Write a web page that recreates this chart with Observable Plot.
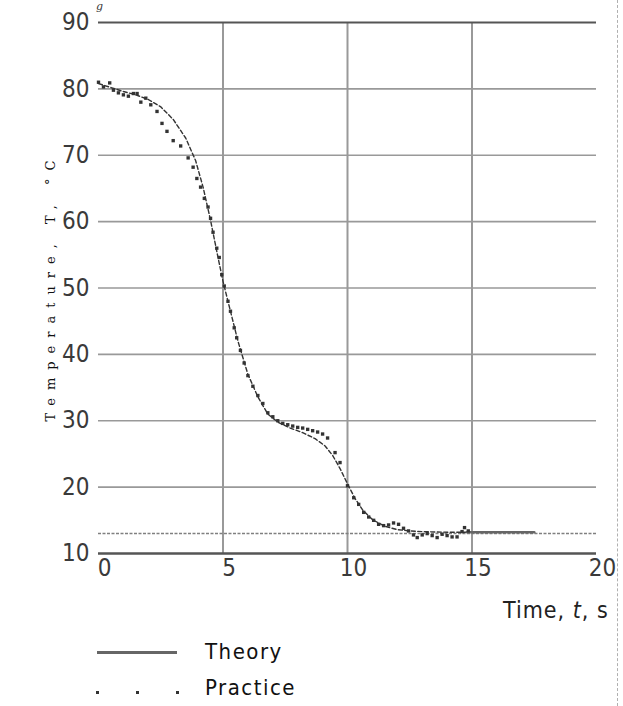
<!DOCTYPE html>
<html>
<head>
<meta charset="utf-8">
<script src="https://cdn.jsdelivr.net/npm/d3@7"></script>
<script src="https://cdn.jsdelivr.net/npm/@observablehq/plot@0.6"></script>
<style>
  html, body { margin: 0; padding: 0; background: #fff; }
  body { position: relative; width: 623px; height: 706px; overflow: hidden; font-family: "DejaVu Sans", sans-serif; }
  #chart { position: absolute; left: 0; top: 0; }
  .abs { position: absolute; white-space: nowrap; }
  #xlabel { left: 503px; top: 597px; font-family: "DejaVu Sans Condensed", "DejaVu Sans", sans-serif; font-size: 23px; letter-spacing: 1px; color: #222; }
  #ylabel { left: 50px; top: 287px; }
  #ylabel span { position: absolute; left: 0; top: 0; transform: translate(-50%, -50%) rotate(-90deg); font-size: 13px; letter-spacing: 8px; color: #111; font-family: "DejaVu Serif", serif; }
  #topg { left: 96px; top: 0; font-size: 11px; line-height: 13px; font-style: italic; color: #333; font-family: "DejaVu Serif", serif; }
  #border { left: 617px; top: 0; height: 706px; border-left: 1px dashed #b0b0b0; }
  .leg { font-size: 22px; color: #111; font-family: "DejaVu Sans Condensed", "DejaVu Sans", sans-serif; letter-spacing: 1.5px; }
  #legline { left: 97px; top: 651px; width: 80px; height: 0; border-top: 3px solid #666; }
  #legdots { left: 96px; top: 691px; }
  #legdots i { position: absolute; top: 0; width: 3px; height: 3px; background: #333; }
</style>
</head>
<body>
<div id="chart"></div>
<div class="abs" id="topg">g</div>
<div class="abs" id="ylabel"><span>Temperature, T, °C</span></div>
<div class="abs" id="xlabel">Time, <i>t</i>, s</div>
<div class="abs" id="border"></div>
<div class="abs" id="legline"></div>
<div class="abs leg" style="left:205px; top:639px;">Theory</div>
<div class="abs" id="legdots"><i style="left:0"></i><i style="left:40px"></i><i style="left:80px"></i></div>
<div class="abs leg" style="left:205px; top:675px;">Practice</div>
<script>
const xTicks = [0, 5, 10, 15, 20];
const yTicks = [10, 20, 30, 40, 50, 60, 70, 80, 90];
const targetLevel = 13;

const theoryT = [0, 0.5, 1, 1.5, 2, 2.5, 3, 3.5, 3.9, 4.2, 4.5, 4.8, 5, 5.3, 5.6, 6, 6.4, 6.8, 7.2, 7.7, 8.2, 8.7, 9.1, 9.4, 9.7, 10, 10.3, 10.6, 11, 11.5, 12, 12.5, 13, 14, 14.8, 16, 17.5];
const theoryV = [80.8, 80.2, 79.6, 79.1, 78.4, 77.3, 75.4, 72.6, 69.2, 65.2, 60.2, 54.6, 51, 46.5, 42, 37, 33.6, 31, 29.8, 28.9, 28.2, 27.3, 26.2, 24.8, 22.8, 20.5, 18.3, 16.6, 15.1, 14.1, 13.6, 13.4, 13.3, 13.2, 13.2, 13.2, 13.2];

const practiceT = [0, 0.2, 0.45, 0.6, 0.8, 1.0, 1.2, 1.4, 1.55, 1.7, 1.9, 2.1, 2.35, 2.55, 2.75, 3.0, 3.3, 3.6, 3.8, 3.95, 4.1, 4.25, 4.4, 4.5, 4.6, 4.75, 4.85, 4.95, 5.05, 5.2, 5.3, 5.45, 5.55, 5.7, 5.85, 6.0, 6.2, 6.4, 6.6, 6.8, 7.0, 7.2, 7.4, 7.6, 7.8, 8.0, 8.2, 8.4, 8.6, 8.8, 9.0, 9.2, 9.5, 9.7, 10.0, 10.25, 10.45, 10.65, 10.85, 11.05, 11.25, 11.45, 11.65, 11.85, 12.05, 12.25, 12.45, 12.65, 12.8, 13.0, 13.2, 13.4, 13.6, 13.8, 14.0, 14.2, 14.4, 14.6, 14.7, 14.85];
const practiceV = [81.0, 80.3, 80.9, 79.8, 79.4, 79.1, 78.9, 79.3, 79.3, 78.0, 78.6, 77.6, 76.6, 74.8, 73.6, 72.2, 71.4, 69.6, 68.2, 66.5, 65.2, 63.5, 62.2, 60.5, 58.4, 56.0, 54.6, 52.0, 50.3, 48.0, 46.5, 44.0, 42.5, 40.6, 38.7, 36.8, 35.2, 33.8, 32.6, 31.2, 30.6, 30.0, 29.6, 29.4, 29.2, 29.0, 28.9, 28.7, 28.5, 28.3, 28.0, 27.4, 25.2, 23.7, 20.2, 18.4, 17.4, 16.2, 15.5, 15.0, 14.4, 14.2, 14.3, 14.6, 14.4, 13.8, 13.4, 12.8, 12.4, 12.8, 13.0, 12.7, 12.4, 12.9, 12.7, 12.5, 12.5, 13.3, 13.9, 13.4];

const theory = theoryT.map((t, i) => ({t, v: theoryV[i]}));
const practice = practiceT.map((t, i) => ({t, v: practiceV[i]}));

const chart = Plot.plot({
  width: 623,
  height: 630,
  marginTop: 22,
  marginBottom: 77,
  marginLeft: 98,
  marginRight: 27,
  x: {domain: [0, 20]},
  y: {domain: [10, 90]},
  style: {fontFamily: "'DejaVu Sans Condensed', 'DejaVu Sans', sans-serif", fontSize: "24px", color: "#3a3a3a", background: "white"},
  marks: [
    Plot.ruleY(yTicks.filter(d => d > 10 && d < 90), {stroke: "#999", strokeWidth: 1.6}),
    Plot.ruleX(xTicks.filter(d => d > 0 && d < 20), {y1: 10, y2: 90, stroke: "#999", strokeWidth: 2}),
    Plot.ruleY([90], {stroke: "#555", strokeWidth: 2.2}),
    Plot.ruleY([10], {stroke: "#555", strokeWidth: 2.6}),
    Plot.ruleY([targetLevel], {x1: 0, x2: 20, stroke: "#808080", strokeWidth: 1.5, strokeDasharray: "3,1.5"}),
    Plot.axisY({ticks: yTicks, tickSize: 0, tickPadding: 9, label: null}),
    Plot.axisX({ticks: xTicks, tickSize: 0, tickPadding: 5, dx: 6, label: null}),
    Plot.line(theory.filter(d => d.t <= 14.8), {x: "t", y: "v", stroke: "#333", strokeWidth: 1.4, strokeDasharray: "4,2.5"}),
    Plot.line(theory.filter(d => d.t >= 14.8), {x: "t", y: "v", stroke: "#666", strokeWidth: 2.6}),
    Plot.dot(practice, {x: "t", y: "v", symbol: "square", r: 1.9, fill: "#333"})
  ]
});
document.getElementById("chart").appendChild(chart);
</script>
</body>
</html>
